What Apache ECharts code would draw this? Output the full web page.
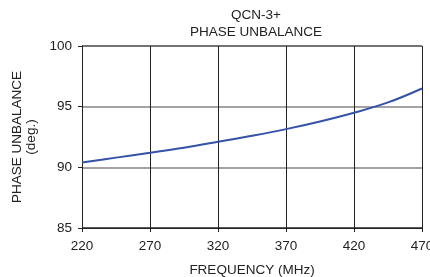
<!DOCTYPE html>
<html>
<head>
<meta charset="utf-8">
<script src="https://cdn.jsdelivr.net/npm/echarts@6/dist/echarts.min.js"></script>
<style>
  html, body { margin: 0; padding: 0; background: #fff; }
  #chart { width: 430px; height: 277px; }
</style>
</head>
<body>
<div id="chart"></div>
<script>
// frequency (MHz) and phase unbalance (deg.)
var freq = [220, 245, 270, 295, 320, 345, 370, 395, 420, 445, 470];
var unbalance = [90.4, 90.8, 91.2, 91.62, 92.1, 92.6, 93.15, 93.78, 94.5, 95.35, 96.5];

var xTicks = { min: 220, max: 470, step: 50 };
var yTicks = { min: 85, max: 100, step: 5 };

var font = 'Liberation Sans, Arial, sans-serif';
var fs = 13.5;

var chart = echarts.init(document.getElementById('chart'));
chart.setOption({
  animation: false,
  title: {
    text: 'QCN-3+\nPHASE UNBALANCE',
    left: 251,
    top: 2,
    textAlign: 'center',
    textStyle: { fontFamily: font, fontSize: fs, fontWeight: 'normal', color: '#222', lineHeight: 17 }
  },
  grid: { left: 82, right: 8, top: 46, bottom: 49, outerBoundsMode: 'none', containLabel: false },
  xAxis: {
    type: 'value',
    min: xTicks.min, max: xTicks.max, interval: xTicks.step,
    name: 'FREQUENCY (MHz)',
    nameLocation: 'middle',
    nameGap: 35,
    nameTextStyle: { fontFamily: font, fontSize: fs, color: '#222' },
    axisLine: { lineStyle: { color: '#222', width: 1 } },
    axisTick: { show: true, length: 4, lineStyle: { color: '#222' } },
    axisLabel: { fontFamily: font, fontSize: fs, color: '#222', margin: 11 },
    splitLine: { show: true, lineStyle: { color: '#222', width: 1 } }
  },
  yAxis: {
    type: 'value',
    min: yTicks.min, max: yTicks.max, interval: yTicks.step,
    name: 'PHASE UNBALANCE\n(deg.)',
    nameLocation: 'middle',
    nameGap: 42,
    nameTextStyle: { fontFamily: font, fontSize: fs, color: '#222', lineHeight: 14 },
    axisLine: { show: true, lineStyle: { color: '#222', width: 1 } },
    axisTick: { show: true, length: 4, lineStyle: { color: '#222' } },
    axisLabel: { fontFamily: font, fontSize: fs, color: '#222', margin: 10 },
    splitLine: { show: true, lineStyle: { color: ['#222', '#858585', '#858585', '#444'], width: 1.6 } }
  },
  series: [{
    type: 'line',
    data: freq.map(function (f, i) { return [f, unbalance[i]]; }),
    smooth: 0.4,
    showSymbol: false,
    lineStyle: { color: '#3553a6', width: 2 }
  }]
});
</script>
</body>
</html>
